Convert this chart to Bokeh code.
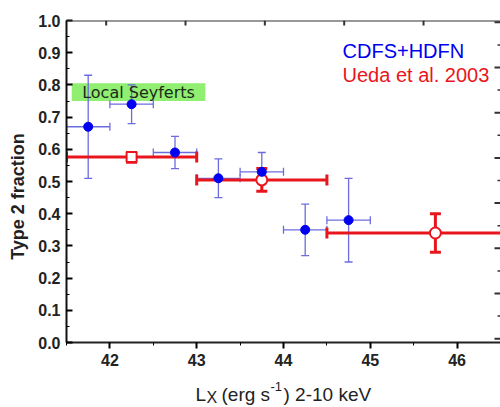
import math
from bokeh.plotting import figure
from bokeh.layouts import row, column
from bokeh.models import (ColumnDataSource, Whisker, TeeHead, LinearAxis, Range1d, Span,
                          SingleIntervalTicker, PrintfTickFormatter, Label, BoxAnnotation)
from bokeh.core.properties import value
from bokeh.embed import file_html
from bokeh.resources import INLINE

# ---- data: CDFS+HDFN (blue) ----
cdfs_x = [41.75, 42.25, 42.75, 43.25, 43.75, 44.25, 44.75]
cdfs_xlo = [41.5, 42.0, 42.5, 43.0, 43.5, 44.0, 44.5]
cdfs_xhi = [42.0, 42.5, 43.0, 43.5, 44.0, 44.5, 45.0]
cdfs_y = [0.67, 0.74, 0.59, 0.51, 0.53, 0.35, 0.38]
cdfs_ylo = [0.51, 0.68, 0.54, 0.45, 0.47, 0.27, 0.25]
cdfs_yhi = [0.83, 0.80, 0.64, 0.57, 0.59, 0.43, 0.51]

# ---- data: Ueda et al. 2003 (red) ----
ueda_x = [42.25, 43.75, 45.75]
ueda_xlo = [41.5, 43.0, 44.5]
ueda_xhi = [43.0, 44.5, 47.0]
ueda_y = [0.576, 0.505, 0.34]
ueda_ylo = [0.56, 0.47, 0.28]
ueda_yhi = [0.59, 0.54, 0.40]

# local Seyferts band
seyfert_lo, seyfert_hi = 0.75, 0.805
seyfert_xlo, seyfert_xhi = 41.56, 43.1

# tick marks of the (unlabelled) top and right frame edges
top_ticks = [1, 2, 3, 4, 5]
right_major = [0, 1, 2, 3, 4, 5, 6, 7]
right_minor = [0.5, 1.5, 2.5, 3.5, 4.5, 5.5, 6.5]

BLUE = "#0000f0"
BLUE_ERR = "#6c6ce0"
RED = "#e8161c"
FONT = "Liberation Sans"
TXT = "#222222"

W_LEFT = 32
W_MAIN = 468
H_MAIN = 374
H_TOTAL = 407
BORDER_LEFT = 34

# ================= main plot =================
p = figure(width=W_MAIN, height=H_MAIN, x_range=(41.5, 46.5), y_range=(0.0, 1.0),
           output_backend="svg", toolbar_location=None, tools="",
           min_border_left=BORDER_LEFT, min_border_right=0, min_border_top=20,
           min_border_bottom=H_MAIN - 342,
           x_axis_type=None, y_axis_type=None)
p.outline_line_color = None
p.xgrid.visible = False
p.ygrid.visible = False

xax = LinearAxis(ticker=SingleIntervalTicker(interval=1, num_minor_ticks=2))
xax.major_tick_in = 0
xax.major_tick_out = 6
xax.minor_tick_in = 0
xax.minor_tick_out = 3
xax.axis_line_width = 2
xax.axis_line_color = "#222222"
xax.major_tick_line_width = 2
xax.major_label_text_font = FONT
xax.major_label_text_font_style = "bold"
xax.major_label_text_font_size = "16px"
xax.major_label_text_color = TXT
xax.major_label_standoff = 5
p.add_layout(xax, "below")

yax = LinearAxis(ticker=SingleIntervalTicker(interval=0.1, num_minor_ticks=2),
                 formatter=PrintfTickFormatter(format="%.1f"))
yax.major_tick_in = 6
yax.major_tick_out = 0
yax.minor_tick_in = 3
yax.minor_tick_out = 0
yax.axis_line_width = 2
yax.axis_line_color = "#111111"
yax.major_tick_line_width = 2
yax.major_label_text_font = FONT
yax.major_label_text_font_style = "bold"
yax.major_label_text_font_size = "16px"
yax.major_label_text_color = TXT
yax.major_label_standoff = 6
p.add_layout(yax, "left")

# top edge line and ticks, right edge ticks
p.extra_x_ranges = {"top": Range1d(0.5, 5.97)}
p.extra_y_ranges = {"right": Range1d(-0.084, 7.04)}
p.add_layout(Span(location=p.y_range.end, dimension="width", line_color="#333333", line_width=2))
p.ray(x=top_ticks, y=[p.y_range.end] * len(top_ticks), length=5, length_units="screen",
      angle=-math.pi / 2, line_color="#333333", line_width=2, x_range_name="top")
p.ray(x=[p.x_range.end] * len(right_major), y=right_major, length=6, length_units="screen",
      angle=math.pi, line_color="#333333", line_width=2, y_range_name="right")
p.ray(x=[p.x_range.end] * len(right_minor), y=right_minor, length=3, length_units="screen",
      angle=math.pi, line_color="#333333", line_width=1.5, y_range_name="right")

# Local Seyferts band
p.add_layout(BoxAnnotation(left=seyfert_xlo, right=seyfert_xhi, bottom=seyfert_lo, top=seyfert_hi,
                           fill_color="#90ee70", fill_alpha=1.0, line_color=None, level="underlay"))
p.add_layout(Label(x=(seyfert_xlo + seyfert_xhi) / 2, y=(seyfert_lo + seyfert_hi) / 2,
                   text="Local Seyferts", text_font="DejaVu Sans", text_font_size="16px",
                   text_color="#1c2a1c", text_align="center", text_baseline="middle"))

cdfs = ColumnDataSource(dict(x=cdfs_x, xlo=cdfs_xlo, xhi=cdfs_xhi, y=cdfs_y, ylo=cdfs_ylo, yhi=cdfs_yhi))
ueda = ColumnDataSource(dict(x=ueda_x, xlo=ueda_xlo, xhi=ueda_xhi, y=ueda_y, ylo=ueda_ylo, yhi=ueda_yhi))

def heads(color, size, width):
    return dict(upper_head=TeeHead(size=size, line_color=color, line_width=width),
                lower_head=TeeHead(size=size, line_color=color, line_width=width))

p.add_layout(Whisker(source=cdfs, base="x", lower="ylo", upper="yhi", dimension="height",
                     line_color=BLUE_ERR, line_width=1.3, **heads(BLUE_ERR, 8, 1.3)))
p.add_layout(Whisker(source=cdfs, base="y", lower="xlo", upper="xhi", dimension="width",
                     line_color=BLUE_ERR, line_width=1.3, **heads(BLUE_ERR, 8, 1.3)))
p.add_layout(Whisker(source=ueda, base="y", lower="xlo", upper="xhi", dimension="width",
                     line_color=RED, line_width=3, **heads(RED, 11, 3)))
p.add_layout(Whisker(source=ueda, base="x", lower="ylo", upper="yhi", dimension="height",
                     line_color=RED, line_width=3, **heads(RED, 11, 3)))

p.scatter(ueda_x[:1], ueda_y[:1], marker="square", size=10, fill_color="white",
          line_color=RED, line_width=2)
p.scatter(ueda_x[1:], ueda_y[1:], marker="circle", size=11, fill_color="white",
          line_color=RED, line_width=2)
p.scatter("x", "y", source=cdfs, marker="circle", size=9, fill_color=BLUE, line_color=BLUE)

p.add_layout(Label(x=44.68, y=0.904, text="CDFS+HDFN", text_color=BLUE, text_font=FONT,
                   text_font_size="20px", text_baseline="middle"))
p.add_layout(Label(x=44.68, y=0.83, text="Ueda et al. 2003", text_color=RED, text_font=FONT,
                   text_font_size="20px", text_baseline="middle"))

# ================= x-axis title strip (x in page pixels) =================
H_X = H_TOTAL - H_MAIN
px = figure(width=W_MAIN, height=H_X, x_range=(W_LEFT + BORDER_LEFT, W_LEFT + W_MAIN),
            y_range=(0, H_X), output_backend="svg", toolbar_location=None, tools="",
            min_border_left=BORDER_LEFT, min_border_right=0, min_border_top=0, min_border_bottom=0,
            x_axis_type=None, y_axis_type=None)
px.outline_line_color = None
px.xgrid.visible = False
px.ygrid.visible = False

def strip_text(fig, x, y, text, size, **kw):
    fig.text(x=[x], y=[y], text=[text], text_font=value(FONT), text_font_size=size,
             text_color=TXT, text_baseline="alphabetic", **kw)

strip_text(px, 195, 13, "L", "19px")
strip_text(px, 206, 10, "X", "16px")
strip_text(px, 221, 13, "(erg s", "19px")
strip_text(px, 270, 21, "-1", "13px")
strip_text(px, 283, 13, ") 2-10 keV", "19px")

# ================= y-axis title strip =================
py = figure(width=W_LEFT, height=H_TOTAL, x_range=(0, W_LEFT), y_range=(0, H_TOTAL),
            output_backend="svg", toolbar_location=None, tools="",
            min_border=0, x_axis_type=None, y_axis_type=None)
py.outline_line_color = None
py.xgrid.visible = False
py.ygrid.visible = False
py.text(x=[17], y=[H_TOTAL - 196], text=["Type 2 fraction"], text_font=value(FONT),
        text_font_size="18px", text_font_style="bold", text_color=TXT, angle=math.pi / 2,
        text_align="center", text_baseline="middle")

layout = row(py, column(p, px))
open("out.html", "w").write(file_html(layout, INLINE))
